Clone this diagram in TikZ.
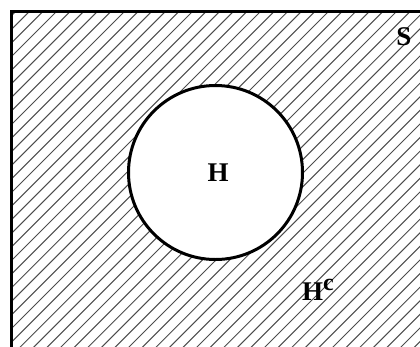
\documentclass[tikz,border=0pt]{standalone}
\usepackage{fontspec}
\setmainfont{Liberation Serif}
\begin{document}
\begin{tikzpicture}[x=1pt,y=-1pt,
  hatch/.style={gray!60!black,line width=1pt},
  frame/.style={line width=3pt},
  lbl/.style={font=\fontsize{27}{27}\selectfont\bfseries,inner sep=0pt}]
\useasboundingbox (0,0) rectangle (420,346);
\begin{scope}
  \clip (11.5,11.5) rectangle (420,346);
  \foreach \i in {-30,...,60} {
    \draw[hatch] (\i*13.6-400,400) -- (\i*13.6,0);
  }
\end{scope}
\draw[frame] (11.5,360) -- (11.5,11.5) -- (430,11.5);
\node[circle,draw,fill=white,line width=3pt,minimum size=174pt,inner sep=0pt] (H) at (215.5,172.5) {};
\node[lbl] (hl) at (218,173) {H};
\node[lbl] (s) at (404,37) {S};
\node[lbl,anchor=base west] (hc) at (302,300) {H\raisebox{10pt}{\fontsize{24}{24}\selectfont c}};
\end{tikzpicture}
\end{document}
